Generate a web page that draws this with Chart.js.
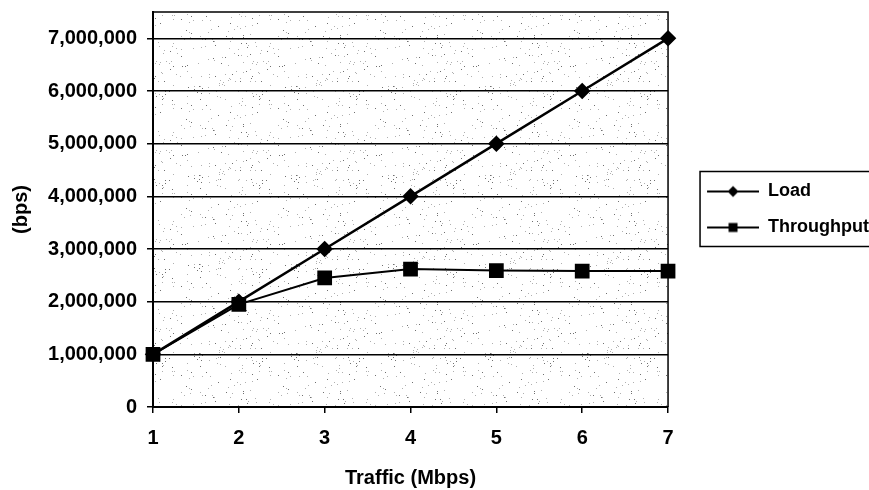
<!DOCTYPE html>
<html>
<head>
<meta charset="utf-8">
<script src="https://cdn.jsdelivr.net/npm/chart.js@4.4.1/dist/chart.umd.min.js"></script>
<style>
  html, body { margin: 0; padding: 0; background: #fff; }
  #wrap { width: 869px; height: 490px; }
</style>
</head>
<body>
<div id="wrap"><canvas id="myChart" width="869" height="490"></canvas></div>
<script>
// values
const traffic = ['1', '2', '3', '4', '5', '6', '7'];
const loadBps = [1000000, 2000000, 3000000, 4000000, 5000000, 6000000, 7000000];
const throughputBps = [1000000, 1950000, 2450000, 2620000, 2590000, 2580000, 2580000];
const yTicks = [0, 1000000, 2000000, 3000000, 4000000, 5000000, 6000000, 7000000];
const yMax = 7500000;

const FONT = "'Liberation Sans', Arial, sans-serif";

// grey speckle texture for the plot area (just a style, not data)
function makeStipple() {
    const c = document.createElement('canvas');
    c.width = 97;
    c.height = 89;
    const g = c.getContext('2d');
    g.fillStyle = '#ffffff';
    g.fillRect(0, 0, c.width, c.height);
    for (let y = 0; y < c.height; y++) {
        for (let x = 0; x < c.width; x++) {
            const h = ((x * 73856093) ^ (y * 19349663) ^ (x * y * 83492791)) >>> 0;
            const k = h % 1000;
            if (k < 20) {
                g.fillStyle = k < 7 ? '#707070' : '#b0b0b0';
                g.fillRect(x, y, 1, 1);
            }
        }
    }
    return g.createPattern(c, 'repeat');
}

// line + marker sample used as legend symbol (left part kept empty as spacing)
const SYMBOL_LEAD = 21;
function legendSymbol(shape) {
    const c = document.createElement('canvas');
    c.width = 52 + SYMBOL_LEAD;
    c.height = 14;
    const g = c.getContext('2d');
    const x0 = SYMBOL_LEAD;
    const cx = x0 + 26;
    g.strokeStyle = '#000';
    g.lineWidth = 2;
    g.beginPath();
    g.moveTo(x0, 7);
    g.lineTo(x0 + 52, 7);
    g.stroke();
    g.fillStyle = '#000';
    g.beginPath();
    if (shape === 'diamond') {
        g.moveTo(cx, 1.5);
        g.lineTo(cx + 5.5, 7);
        g.lineTo(cx, 12.5);
        g.lineTo(cx - 5.5, 7);
        g.closePath();
    } else {
        g.rect(cx - 4.5, 2.5, 9, 9);
    }
    g.fill();
    return c;
}

const stipple = makeStipple();
const symbols = [legendSymbol('diamond'), legendSymbol('square')];

const plotBackground = {
    id: 'plotBackground',
    beforeDraw(chart) {
        const a = chart.chartArea;
        const ctx = chart.ctx;
        ctx.save();
        ctx.fillStyle = stipple;
        ctx.fillRect(a.left, a.top, a.right - a.left, a.bottom - a.top);
        ctx.restore();
    }
};

const frames = {
    id: 'frames',
    afterDraw(chart) {
        const a = chart.chartArea;
        const ctx = chart.ctx;
        ctx.save();
        ctx.strokeStyle = '#000';
        ctx.lineWidth = 1.5;
        ctx.beginPath();
        ctx.moveTo(a.left, a.top);
        ctx.lineTo(a.right, a.top);
        ctx.lineTo(a.right, a.bottom);
        ctx.stroke();
        // box around the legend
        const boxes = chart.legend.legendHitBoxes;
        if (boxes && boxes.length) {
            const first = boxes[0];
            const last = boxes[boxes.length - 1];
            const x = first.left + SYMBOL_LEAD - 7;
            const top = first.top - 11;
            ctx.strokeRect(x, top, chart.width, last.top + last.height + 10 - top);
        }
        ctx.restore();
    }
};

const ctx = document.getElementById('myChart').getContext('2d');
const myChart = new Chart(ctx, {
    type: 'line',
    data: {
        labels: traffic,
        datasets: [
            {
                label: 'Load',
                data: loadBps,
                borderColor: '#000',
                backgroundColor: '#000',
                borderWidth: 2.5,
                pointStyle: 'rectRot',
                pointRadius: 6.5,
                pointHoverRadius: 6.5,
                tension: 0,
                fill: false
            },
            {
                label: 'Throughput',
                data: throughputBps,
                borderColor: '#000',
                backgroundColor: '#000',
                borderWidth: 2,
                pointStyle: 'rect',
                pointRadius: 9,
                pointHoverRadius: 9,
                tension: 0,
                fill: false
            }
        ]
    },
    options: {
        responsive: false,
        animation: false,
        layout: {
            padding: {left: 5, top: 12, right: -10, bottom: 0}
        },
        plugins: {
            legend: {
                position: 'right',
                fullSize: false,
                labels: {
                    usePointStyle: true,
                    pointStyleWidth: 52 + SYMBOL_LEAD,
                    padding: 18,
                    color: '#000',
                    font: {family: FONT, size: 18, weight: 'bold'},
                    generateLabels(chart) {
                        const items = Chart.defaults.plugins.legend.labels.generateLabels(chart);
                        items.forEach((item, i) => { item.pointStyle = symbols[i]; });
                        return items;
                    }
                }
            },
            tooltip: {enabled: false}
        },
        scales: {
            x: {
                offset: false,
                grid: {
                    display: true,
                    drawOnChartArea: false,
                    drawTicks: true,
                    tickLength: 6,
                    color: '#000',
                    lineWidth: 1.5
                },
                border: {display: true, color: '#000', width: 2},
                ticks: {
                    color: '#000',
                    padding: 13,
                    maxRotation: 0,
                    font: {family: FONT, size: 20, weight: 'bold'}
                },
                title: {
                    display: true,
                    text: 'Traffic (Mbps)',
                    color: '#000',
                    padding: {top: 0, bottom: 0},
                    font: {family: FONT, size: 20, weight: 'bold'}
                },
                afterFit(scale) { scale.height = 83; }
            },
            y: {
                min: 0,
                max: yMax,
                grid: {
                    color: '#000',
                    lineWidth: 1.5,
                    tickLength: 6
                },
                border: {display: true, color: '#000', width: 2},
                afterBuildTicks(scale) {
                    scale.ticks = yTicks.map(v => ({value: v}));
                },
                ticks: {
                    autoSkip: false,
                    color: '#000',
                    padding: 10,
                    font: {family: FONT, size: 20, weight: 'bold'},
                    callback: (v) => Number(v).toLocaleString('en-US')
                },
                title: {
                    display: true,
                    text: '(bps)',
                    color: '#000',
                    padding: {top: 4, bottom: 4},
                    font: {family: FONT, size: 20, weight: 'bold'}
                },
                afterFit(scale) {
                    scale.width = 148;
                    scale.paddingTop = 0;
                    scale.paddingBottom = 0;
                }
            }
        }
    },
    plugins: [plotBackground, frames]
});
</script>
</body>
</html>
